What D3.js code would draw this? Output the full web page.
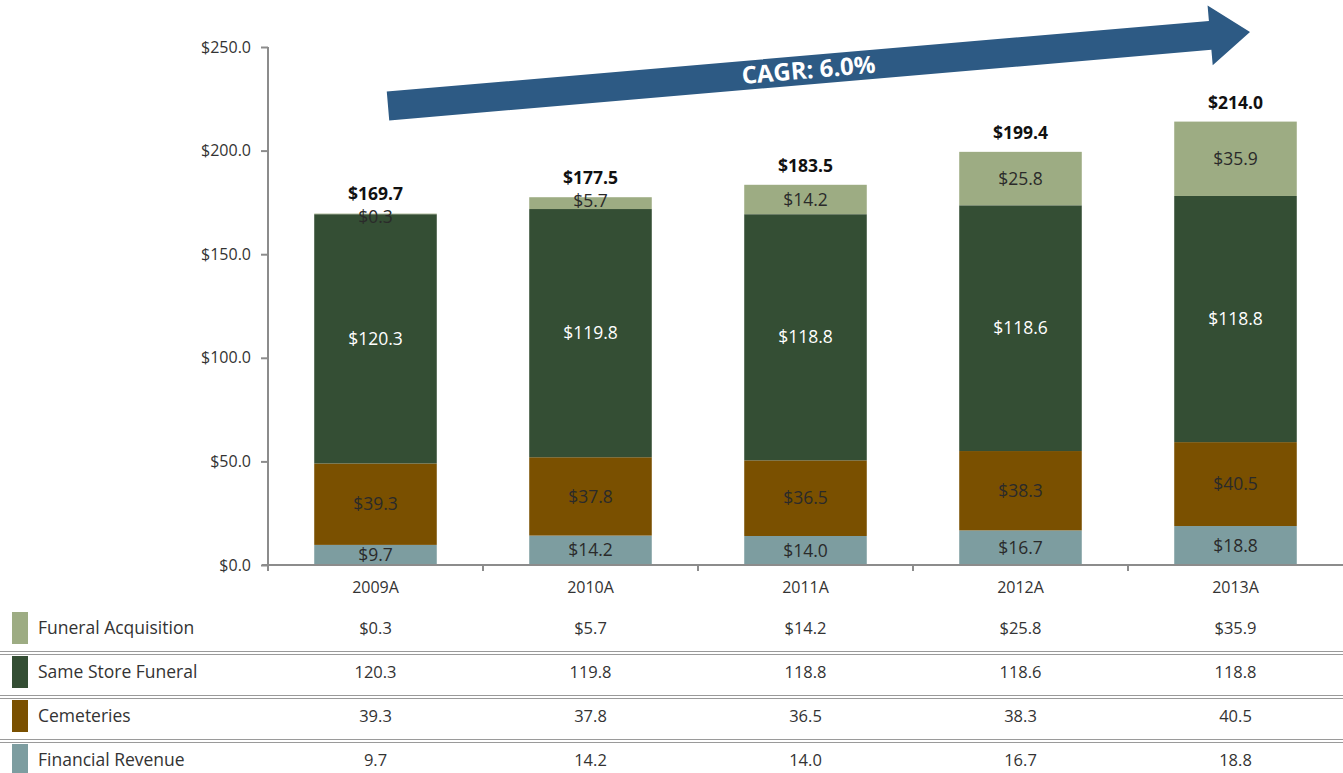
<!DOCTYPE html>
<html lang="en">
<head>
	<meta charset="utf-8">
	<title>Revenue by segment</title>
	<script src="https://d3js.org/d3.v7.min.js"></script>
</head>
<body>
	<div id="chart"></div>
</body>
</html>

<script type="text/javascript">
	var w = 1343;
	var h = 773;

	var years = ["2009A", "2010A", "2011A", "2012A", "2013A"];
	var seriesNames = ["Financial Revenue", "Cemeteries", "Same Store Funeral", "Funeral Acquisition"];
	var financial = [9.7, 14.2, 14.0, 16.7, 18.8];
	var cemeteries = [39.3, 37.8, 36.5, 38.3, 40.5];
	var sameStore = [120.3, 119.8, 118.8, 118.6, 118.8];
	var acquisition = [0.3, 5.7, 14.2, 25.8, 35.9];
	var totals = [169.7, 177.5, 183.5, 199.4, 214.0];
	var yTicks = [0, 50, 100, 150, 200, 250];
	var cagrLabel = "CAGR: 6.0%";

	var colors = ["#7d9da0", "#7a5000", "#344e34", "#9dac83"];
	var labelColors = ["#2a2a2a", "#2a2a2a", "#fff", "#2a2a2a"];

	var font = "'Open Sans', 'Noto Sans', sans-serif";

	var svg = d3.select("#chart")
		.append("svg")
		.attr("width", w)
		.attr("height", h);

	var x = d3.scaleBand().domain(years).range([268, 1343]).padding(0);
	var y = d3.scaleLinear().domain([0, 250]).range([565, 47]);
	var barW = x.bandwidth() * 0.57;

	// stacked data
	var rows = years.map(function(yr, i) {
		return { year: yr, "Financial Revenue": financial[i], "Cemeteries": cemeteries[i],
			"Same Store Funeral": sameStore[i], "Funeral Acquisition": acquisition[i] };
	});
	var stack = d3.stack().keys(seriesNames)(rows);

	var layers = svg.selectAll("g.layer")
		.data(stack)
		.enter()
		.append("g")
		.attr("class", "layer")
		.attr("fill", function(d, i) { return colors[i]; });

	layers.selectAll("rect")
		.data(function(d) { return d; })
		.enter()
		.append("rect")
		.attr("x", function(d) { return x(d.data.year) + (x.bandwidth() - barW) / 2; })
		.attr("y", function(d) { return y(d[1]); })
		.attr("width", barW)
		.attr("height", function(d) { return y(d[0]) - y(d[1]); });

	stack.forEach(function(layer, li) {
		svg.selectAll("text.seg" + li)
			.data(layer)
			.enter()
			.append("text")
			.attr("class", "seg" + li)
			.text(function(d) { return "$" + (d[1] - d[0]).toFixed(1); })
			.attr("x", function(d) { return x(d.data.year) + x.bandwidth() / 2; })
			.attr("y", function(d) {
				var top = y(d[1]), bot = y(d[0]);
				// tiny segment: label hangs just under the top edge
				return (bot - top) < 12 ? top + 3.5 : (top + bot) / 2;
			})
			.attr("dy", "0.35em")
			.attr("text-anchor", "middle")
			.attr("font-family", font)
			.attr("font-size", "17.5px")
			.attr("fill", labelColors[li]);
	});

	// totals
	svg.selectAll("text.total")
		.data(totals)
		.enter()
		.append("text")
		.attr("class", "total")
		.text(function(d) { return "$" + d.toFixed(1); })
		.attr("x", function(d, i) { return x(years[i]) + x.bandwidth() / 2; })
		.attr("y", function(d) { return y(d) - 13; })
		.attr("text-anchor", "middle")
		.attr("font-family", font)
		.attr("font-weight", "bold")
		.attr("font-size", "17.5px")
		.attr("fill", "#111");

	// axes
	var yAxis = svg.append("g")
		.attr("transform", "translate(268,0)")
		.call(d3.axisLeft(y).tickValues(yTicks).tickSize(7).tickFormat(function(d) { return "$" + d.toFixed(1); }));
	yAxis.select(".domain").attr("stroke", "#8c8c8c").attr("stroke-width", 2).attr("d", "M0," + y(250) + "V" + y(0));
	yAxis.selectAll(".tick line").attr("stroke", "#8c8c8c").attr("stroke-width", 2);
	yAxis.selectAll(".tick text").attr("font-family", font).attr("font-size", "16px").attr("fill", "#333").attr("x", -17);

	var xAxis = svg.append("g")
		.attr("transform", "translate(0," + y(0) + ")");
	xAxis.append("line")
		.attr("x1", 262).attr("x2", w)
		.attr("stroke", "#8c8c8c").attr("stroke-width", 2);
	xAxis.selectAll("line.tk")
		.data(years)
		.enter()
		.append("line")
		.attr("class", "tk")
		.attr("x1", function(d) { return x(d); })
		.attr("x2", function(d) { return x(d); })
		.attr("y1", 0).attr("y2", 6)
		.attr("stroke", "#8c8c8c").attr("stroke-width", 2);
	xAxis.selectAll("text")
		.data(years)
		.enter()
		.append("text")
		.text(function(d) { return d; })
		.attr("x", function(d) { return x(d) + x.bandwidth() / 2; })
		.attr("y", 28)
		.attr("text-anchor", "middle")
		.attr("font-family", font)
		.attr("font-size", "16px")
		.attr("fill", "#333");

	// data table
	var tableRows = [
		{ name: "Funeral Acquisition", vals: acquisition, color: colors[3], dollar: true },
		{ name: "Same Store Funeral", vals: sameStore, color: colors[2] },
		{ name: "Cemeteries", vals: cemeteries, color: colors[1] },
		{ name: "Financial Revenue", vals: financial, color: colors[0] }
	];
	var rowY = d3.scalePoint().domain(d3.range(4)).range([628, 760]);

	tableRows.forEach(function(r, i) {
		var cy = rowY(i);
		svg.append("rect")
			.attr("x", 12).attr("y", cy - 16)
			.attr("width", 16).attr("height", 32)
			.attr("fill", r.color);
		svg.append("text")
			.text(r.name)
			.attr("x", 38).attr("y", cy)
			.attr("dy", "0.35em")
			.attr("font-family", font)
			.attr("font-size", "17.5px")
			.attr("fill", "#333");
		svg.selectAll("text.row" + i)
			.data(r.vals)
			.enter()
			.append("text")
			.attr("class", "row" + i)
			.text(function(d) { return (r.dollar ? "$" : "") + d.toFixed(1); })
			.attr("x", function(d, j) { return x(years[j]) + x.bandwidth() / 2; })
			.attr("y", cy)
			.attr("dy", "0.35em")
			.attr("text-anchor", "middle")
			.attr("font-family", font)
			.attr("font-size", "16.5px")
			.attr("fill", "#333");
		if (i < 3) {
			var ly = (rowY(i) + rowY(i + 1)) / 2 + 3;
			[ly - 1.5, ly + 1.5].forEach(function(yy) {
				svg.append("line")
					.attr("x1", 0).attr("x2", w)
					.attr("y1", yy).attr("y2", yy)
					.attr("stroke", "#9a9a9a").attr("stroke-width", 1.2);
			});
		}
	});

	// CAGR arrow
	var ax0 = 388, ay0 = 106, ax1 = 1250, ay1 = 32;
	var ang = Math.atan2(ay1 - ay0, ax1 - ax0) * 180 / Math.PI;
	var len = Math.sqrt((ax1 - ax0) * (ax1 - ax0) + (ay1 - ay0) * (ay1 - ay0));
	var arrow = svg.append("g")
		.attr("transform", "translate(" + ax0 + "," + ay0 + ") rotate(" + ang + ")");
	var headL = 40, bodyH = 14.5, headH = 30;
	arrow.append("path")
		.attr("d", "M0," + (-bodyH) + "L" + (len - headL) + "," + (-bodyH) + "L" + (len - headL) + "," + (-headH) +
			"L" + len + ",0L" + (len - headL) + "," + headH + "L" + (len - headL) + "," + bodyH + "L0," + bodyH + "Z")
		.attr("fill", "#2d5a84");
	arrow.append("text")
		.text(cagrLabel)
		.attr("x", 422)
		.attr("y", 0)
		.attr("dy", "0.35em")
		.attr("text-anchor", "middle")
		.attr("font-family", font)
		.attr("font-weight", "bold")
		.attr("font-size", "24px")
		.attr("fill", "#fff");
</script>
<style type="text/css">
	body { margin: 0; background: #fff; }
</style>
